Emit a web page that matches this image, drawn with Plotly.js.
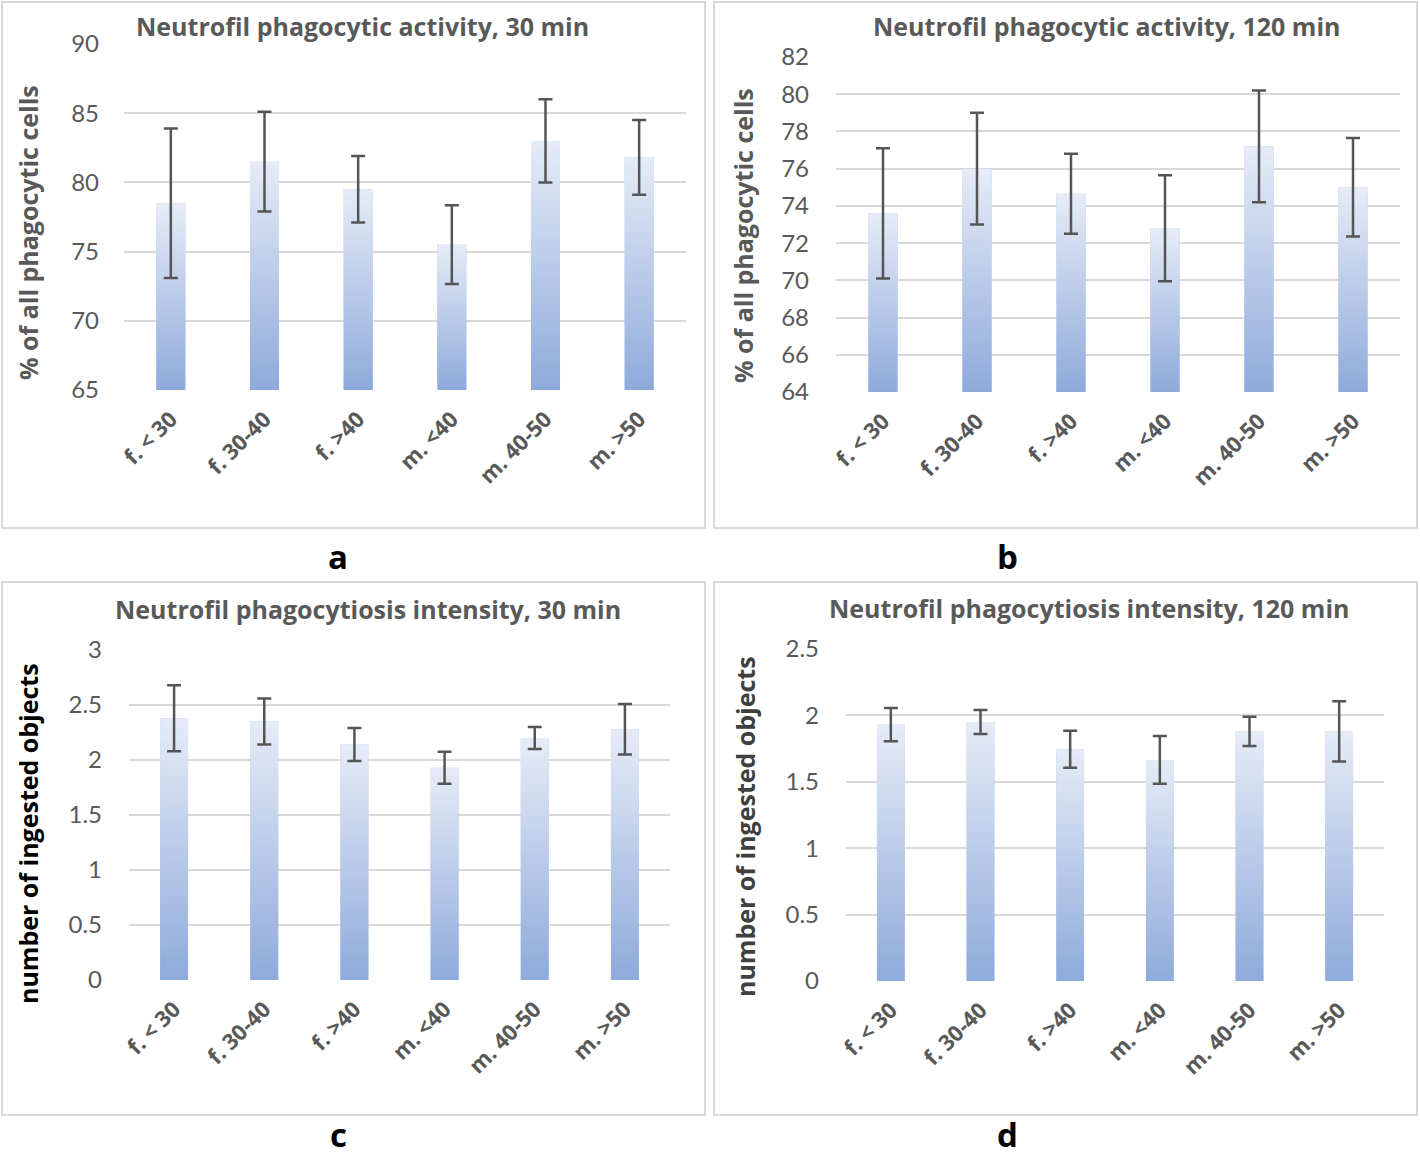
<!DOCTYPE html>
<html>
<head>
<meta charset="utf-8">
<script src="https://cdn.plot.ly/plotly-3.0.1.min.js"></script>
<style>
html,body{margin:0;padding:0;background:#fff;}
#chart{width:1420px;height:1158px;}
</style>
</head>
<body>
<div id="chart"></div>
<script>
// ---- data ----
const categories = ['f. < 30', 'f. 30-40', 'f. >40', 'm. <40', 'm. 40-50', 'm. >50'];

const activity30 = [78.5, 81.5, 79.5, 75.5, 83.0, 81.8];
const activity30Err = [5.4, 3.6, 2.4, 2.85, 3.0, 2.7];

const activity120 = [73.6, 76.0, 74.65, 72.8, 77.2, 75.0];
const activity120Err = [3.5, 3.0, 2.15, 2.85, 3.0, 2.65];

const intensity30 = [2.38, 2.35, 2.14, 1.93, 2.2, 2.28];
const intensity30Err = [0.3, 0.21, 0.15, 0.145, 0.1, 0.23];

const intensity120 = [1.93, 1.95, 1.745, 1.665, 1.88, 1.88];
const intensity120Err = [0.125, 0.09, 0.14, 0.18, 0.11, 0.227];

const panelTitles = [
  'Neutrofil phagocytic activity, 30 min',
  'Neutrofil phagocytic activity, 120 min',
  'Neutrofil phagocytiosis intensity, 30 min',
  'Neutrofil phagocytiosis intensity, 120 min'
];
const yTitles = ['% of all phagocytic cells', '% of all phagocytic cells',
                 'number of ingested objects', 'number of ingested objects'];
const panelLetters = ['a', 'b', 'c', 'd'];

// ---- layout / style ----
const W = 1420, H = 1158;
const FONT = 'Lato, "Open Sans", sans-serif';
const BFONT = '"Open Sans", Lato, sans-serif';
const px = v => v / W;
const py = v => 1 - v / H;
const bold = s => '<b>' + s + '</b>';

const panels = [
  {vals: activity30, errs: activity30Err, range: [65, 90], dtick: 5,
   plot: {x0: 124, x1: 686, y0: 44, y1: 390}, box: {x0: 2, x1: 705, y0: 2, y1: 528},
   titleXY: [362, 26], yTitleXY: [28, 233], yTitleColor: '#595959', letterY: 580, standoff: 24},
  {vals: activity120, errs: activity120Err, range: [64, 82], dtick: 2,
   plot: {x0: 836, x1: 1400, y0: 57, y1: 392}, box: {x0: 714, x1: 1417, y0: 2, y1: 528},
   titleXY: [1106, 26], yTitleXY: [743, 236], yTitleColor: '#595959', letterY: 580, standoff: 26},
  {vals: intensity30, errs: intensity30Err, range: [0, 3], dtick: 0.5,
   plot: {x0: 129, x1: 670, y0: 650, y1: 980}, box: {x0: 2, x1: 705, y0: 582, y1: 1115},
   titleXY: [368, 609], yTitleXY: [28, 834], yTitleColor: '#000000', letterY: 1158, standoff: 26},
  {vals: intensity120, errs: intensity120Err, range: [0, 2.5], dtick: 0.5,
   plot: {x0: 846, x1: 1384, y0: 649, y1: 981}, box: {x0: 714, x1: 1417, y0: 582, y1: 1115},
   titleXY: [1089, 608], yTitleXY: [745, 827], yTitleColor: '#404040', letterY: 1158, standoff: 26}
];
const letterX = [338, 1007, 338, 1007];

const BAR_W = 0.31;
const idx = categories.map((c, i) => i);
const traces = [];
const layout = {
  width: W, height: H,
  margin: {l: 0, r: 0, t: 0, b: 0},
  paper_bgcolor: '#ffffff', plot_bgcolor: '#ffffff',
  showlegend: false, hovermode: false,
  font: {family: FONT, color: '#595959'},
  shapes: [], annotations: []
};

panels.forEach((p, k) => {
  const n = k === 0 ? '' : String(k + 1);
  const xa = 'x' + n, ya = 'y' + n;

  // base bar trace
  traces.push({
    type: 'bar', x: idx, y: p.vals, width: BAR_W,
    xaxis: xa, yaxis: ya,
    marker: {color: '#b4c6e7', line: {width: 0}}
  });
  // vertical gradient overlay for each bar (same footprint as the bar)
  p.vals.forEach((v, i) => {
    traces.push({
      type: 'scatter', mode: 'lines', xaxis: xa, yaxis: ya,
      x: [i - BAR_W / 2, i - BAR_W / 2, i + BAR_W / 2, i + BAR_W / 2, i - BAR_W / 2],
      y: [p.range[0], v, v, p.range[0], p.range[0]],
      fill: 'toself', line: {width: 0, color: 'rgba(0,0,0,0)'},
      fillcolor: '#b4c6e7',
      fillgradient: {type: 'vertical', colorscale: [[0, '#8eaadb'], [1, '#e6ecf7']]}
    });
  });
  // error bars
  traces.push({
    type: 'scatter', mode: 'markers', x: idx, y: p.vals, xaxis: xa, yaxis: ya,
    marker: {size: 1, color: 'rgba(0,0,0,0)'},
    error_y: {type: 'data', array: p.errs, visible: true, color: '#555555', thickness: 2.5, width: 7}
  });

  layout['xaxis' + n] = {
    domain: [px(p.plot.x0), px(p.plot.x1)], anchor: ya,
    type: 'linear', range: [-0.5, categories.length - 0.5],
    tickvals: idx, ticktext: categories.map(bold), tickangle: -45,
    showgrid: false, zeroline: false, showline: false, ticks: '',
    ticklabelstandoff: 11,
    tickfont: {family: BFONT, size: 22, color: '#595959'},
    fixedrange: true
  };
  layout['yaxis' + n] = {
    domain: [py(p.plot.y1), py(p.plot.y0)], anchor: xa,
    range: p.range, dtick: p.dtick, tick0: 0,
    showgrid: true, gridcolor: '#d9d9d9', gridwidth: 2,
    zeroline: false, showline: false, ticks: '',
    ticklabelstandoff: p.standoff,
    tickfont: {family: FONT, size: 24, color: '#595959'},
    fixedrange: true
  };

  layout.shapes.push({
    type: 'rect', xref: 'paper', yref: 'paper',
    x0: px(p.box.x0), x1: px(p.box.x1), y0: py(p.box.y1), y1: py(p.box.y0),
    line: {color: '#d9d9d9', width: 2}, fillcolor: 'rgba(0,0,0,0)', layer: 'below'
  });
  layout.annotations.push({
    xref: 'paper', yref: 'paper', x: px(p.titleXY[0]), y: py(p.titleXY[1]),
    xanchor: 'center', yanchor: 'middle', showarrow: false,
    text: bold(panelTitles[k]), font: {family: BFONT, size: 25, color: '#595959'}
  });
  layout.annotations.push({
    xref: 'paper', yref: 'paper', x: px(p.yTitleXY[0]), y: py(p.yTitleXY[1]),
    xanchor: 'center', yanchor: 'middle', showarrow: false, textangle: -90,
    text: bold(yTitles[k]), font: {family: BFONT, size: 25, color: p.yTitleColor}
  });
  layout.annotations.push({
    xref: 'paper', yref: 'paper', x: px(letterX[k]), y: py(p.letterY),
    xanchor: 'center', yanchor: 'bottom', showarrow: false, borderpad: 0,
    text: bold(panelLetters[k]), font: {family: BFONT, size: 33, color: '#000000'}
  });
});

Plotly.newPlot('chart', traces, layout, {staticPlot: true, displayModeBar: false});
</script>
</body>
</html>
